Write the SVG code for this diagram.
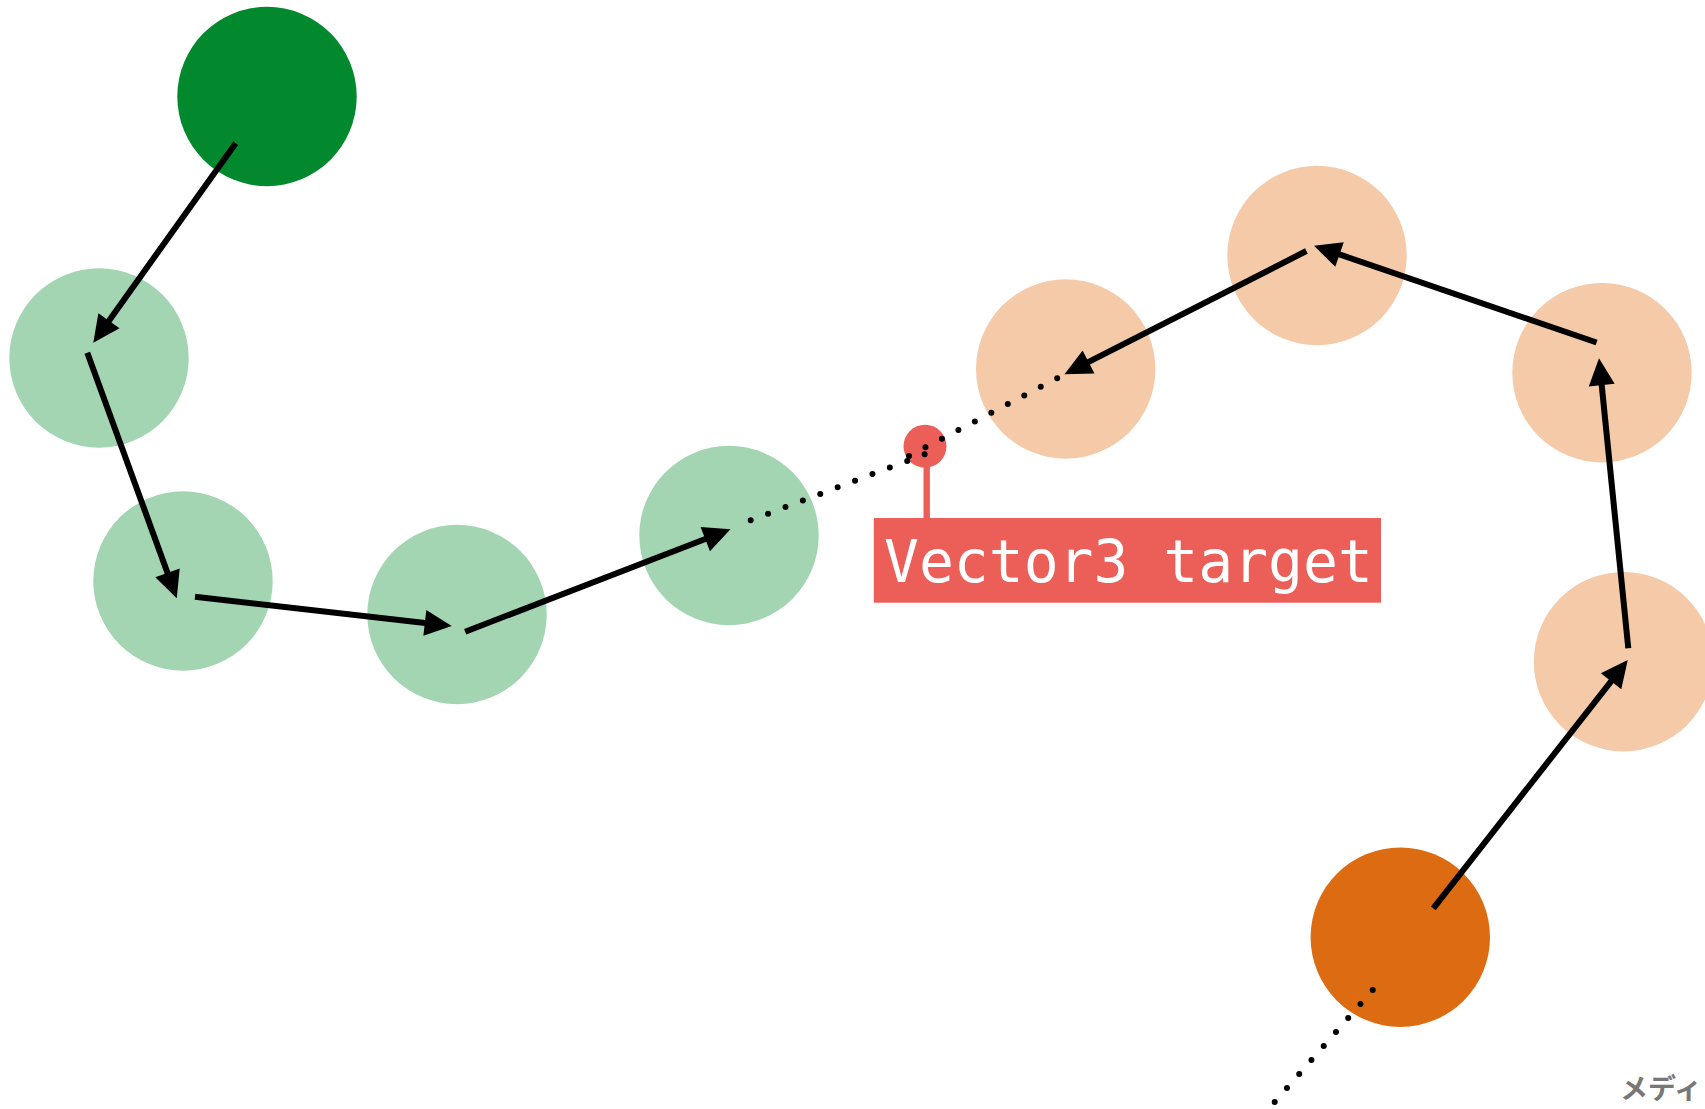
<svg xmlns="http://www.w3.org/2000/svg" width="1705" height="1109" viewBox="0 0 1705 1109">
<style>
.g1{fill:#03892d}
.g2{fill:#a3d5b3}
.o1{fill:#dd6b11}
.o2{fill:#f4caa8}
.arrow{fill:none;stroke:#000;stroke-width:6;stroke-linecap:butt;marker-end:url(#ah)}
.dots{fill:none;stroke:#000;stroke-width:6;stroke-linecap:round;stroke-dasharray:0 18.6}
.red{fill:#eb5f58}
.lbl{font-family:"DejaVu Sans Mono","Liberation Mono",monospace;font-size:58px;fill:#fff}
.jp{font-family:"Noto Sans CJK JP","Noto Sans",sans-serif;font-size:28px;font-weight:bold;fill:#777}
</style>
<defs>
<marker id="ah" markerUnits="userSpaceOnUse" markerWidth="28" markerHeight="26" refX="7" refY="13" orient="auto" overflow="visible">
<path d="M0,0 L27,13 L0,26 Z" fill="#000"/>
</marker>
</defs>
<rect width="1705" height="1109" fill="#fff"/>
<g id="nodes">
<g id="start"><circle class="g1" cx="267" cy="96.5" r="89.7"/></g>
<g id="p1"><circle class="g2" cx="99" cy="358" r="89.7"/></g>
<g id="p2"><circle class="g2" cx="183" cy="581" r="89.7"/></g>
<g id="p3"><circle class="g2" cx="457" cy="614.5" r="89.7"/></g>
<g id="p4"><circle class="g2" cx="729" cy="535.5" r="89.7"/></g>
<g id="q5"><circle class="o2" cx="1065.7" cy="369" r="89.7"/></g>
<g id="q6"><circle class="o2" cx="1317" cy="255.5" r="89.7"/></g>
<g id="q7"><circle class="o2" cx="1602" cy="372.7" r="89.7"/></g>
<g id="q8"><circle class="o2" cx="1623.5" cy="661.7" r="89.7"/></g>
<g id="end"><circle class="o1" cx="1400.3" cy="937.2" r="89.7"/></g>
<g id="target">
<rect class="red" x="923.5" y="446" width="6.4" height="73"/>
<circle class="red" cx="925" cy="446.2" r="21.5"/>
<rect class="red" x="873.8" y="518" width="507.2" height="84.7"/>
<text class="lbl" x="884" y="582">Vector3 target</text>
</g>
</g>
<g id="connectors">
<path class="arrow" d="M235.7,143.3 L104.9,326.4"/>
<path class="arrow" d="M87.3,352.7 L169.9,579.5"/>
<path class="arrow" d="M195,596.7 L431.8,623.7"/>
<path class="arrow" d="M465.2,631.7 L711.8,536.5"/>
<path class="arrow" d="M1433.3,908.3 L1615.4,675.8"/>
<path class="arrow" d="M1628.3,648.3 L1601,378.2"/>
<path class="arrow" d="M1596.6,342.5 L1332.9,252.2"/>
<path class="arrow" d="M1306.4,251 L1082.3,365.2"/>
<path class="dots" d="M750.7,520.3 L924.7,454.3"/>
<path class="dots" d="M909,456 L1057.5,378"/>
<path class="dots" d="M1372.7,990 L1274.7,1102"/>
</g>
<text class="jp" x="1620" y="1099">メディ</text>
</svg>
